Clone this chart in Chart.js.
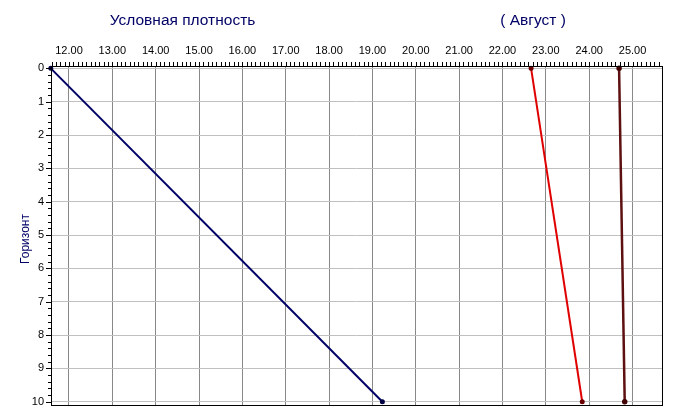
<!DOCTYPE html>
<html>
<head>
<meta charset="utf-8">
<script src="https://cdn.jsdelivr.net/npm/chart.js@4"></script>
<style>
  html, body { margin: 0; background: #fff; }
  #wrap { width: 675px; height: 419px; }
</style>
</head>
<body>
<div id="wrap"><canvas id="myChart"></canvas></div>
<script>
// данные
var horizons = [0, 10];
var densityBlue = [11.58, 19.23];
var densityRed = [22.66, 23.84];
var densityDark = [24.69, 24.82];
var xTicks = [12, 13, 14, 15, 16, 17, 18, 19, 20, 21, 22, 23, 24, 25];
var yTicks = [0, 1, 2, 3, 4, 5, 6, 7, 8, 9, 10];
var titleLeft = "Условная плотность";
var titleRight = "( Август )";
var yTitle = "Горизонт";

function pts(xs) {
  return xs.map(function (v, i) { return { x: v, y: horizons[i] }; });
}

// подписи, мелкие риски и рамка
var decor = {
  id: "decor",
  afterDraw: function (chart) {
    var c = chart.ctx, a = chart.chartArea;
    var sx = chart.scales.x, sy = chart.scales.y;
    c.save();
    c.strokeStyle = "#000";
    c.lineWidth = 1;
    c.beginPath();
    for (var v = Math.ceil(sx.min * 10); v <= sx.max * 10; v++) {
      var px = Math.round(sx.getPixelForValue(v / 10)) + 0.5;
      c.moveTo(px, a.top);
      c.lineTo(px, a.top - 4);
    }
    for (var w = Math.ceil(sy.min * 5); w <= sy.max * 5; w++) {
      var py = Math.round(sy.getPixelForValue(w / 5)) + 0.5;
      var len = (w % 5 === 0) ? 5 : 3;
      c.moveTo(a.left, py);
      c.lineTo(a.left - len, py);
    }
    c.stroke();
    c.strokeRect(Math.round(a.left) + 0.5, Math.round(a.top) + 0.5,
      Math.round(a.right - a.left), Math.round(a.bottom - a.top));

    c.fillStyle = "#000066";
    c.font = "15.5px 'Liberation Sans', Arial, sans-serif";
    c.textAlign = "center";
    c.textBaseline = "middle";
    c.fillText(titleLeft, 182.5, 21);
    c.fillText(titleRight, 533, 21);
    c.font = "12px 'Liberation Sans', Arial, sans-serif";
    c.translate(26, 239);
    c.rotate(-Math.PI / 2);
    c.fillText(yTitle, 0, 0);
    c.restore();
  }
};

var ctx = document.getElementById("myChart").getContext("2d");
var chart = new Chart(ctx, {
  type: "scatter",
  data: {
    datasets: [
      {
        data: pts(densityBlue),
        showLine: true,
        borderColor: "#000066",
        borderWidth: 2,
        pointRadius: 1.5,
        pointBackgroundColor: "#000044",
        pointBorderColor: "#000044",
        clip: 6,
      },
      {
        data: pts(densityRed),
        showLine: true,
        borderColor: "#e00000",
        borderWidth: 2,
        pointRadius: 1.5,
        pointBackgroundColor: "#6a0000",
        pointBorderColor: "#6a0000",
        clip: 6,
      },
      {
        data: pts(densityDark),
        showLine: true,
        borderColor: "#5e1010",
        borderWidth: 2.5,
        pointRadius: 1.5,
        pointBackgroundColor: "#400000",
        pointBorderColor: "#400000",
        clip: 6,
      },
    ],
  },
  options: {
    animation: false,
    maintainAspectRatio: false,
    responsive: true,
    layout: { padding: { left: 0, right: 13, top: 0, bottom: 13 } },
    plugins: { legend: { display: false }, tooltip: { enabled: false } },
    scales: {
      x: {
        type: "linear",
        position: "top",
        min: 11.585,
        max: 25.68,
        afterBuildTicks: function (s) { s.ticks = xTicks.map(function (v) { return { value: v }; }); },
        afterFit: function (s) { s.height = 66; },
        border: { display: false },
        grid: { color: "#888888", drawTicks: false, lineWidth: 1 },
        ticks: {
          color: "#000",
          padding: 8,
          maxRotation: 0,
          font: { family: "'Liberation Sans', Arial, sans-serif", size: 11 },
          callback: function (v) { return v.toFixed(2); },
        },
      },
      y: {
        type: "linear",
        reverse: true,
        min: -0.07,
        max: 10.11,
        afterBuildTicks: function (s) { s.ticks = yTicks.map(function (v) { return { value: v }; }); },
        afterFit: function (s) { s.width = 51; },
        border: { display: false },
        grid: { color: "#c0c0c0", drawTicks: false, lineWidth: 1 },
        ticks: {
          color: "#000",
          padding: 7,
          font: { family: "'Liberation Sans', Arial, sans-serif", size: 11 },
        },
      },
    },
  },
  plugins: [decor],
});
</script>
</body>
</html>
